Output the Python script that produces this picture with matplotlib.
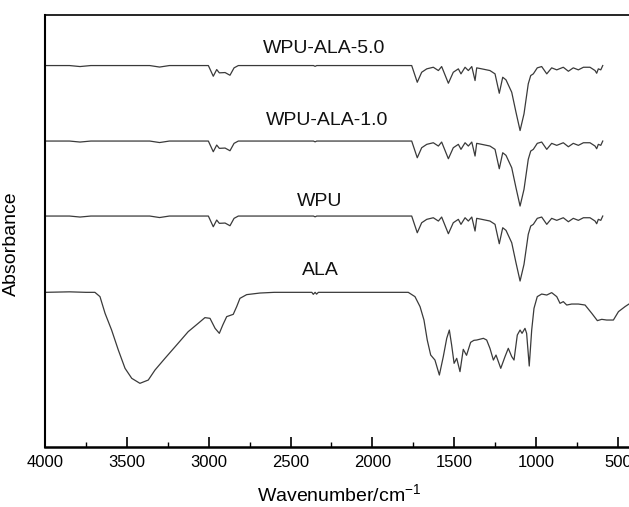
import numpy as np
import matplotlib
matplotlib.use('Agg')
import matplotlib.pyplot as plt
from matplotlib.ticker import MultipleLocator

from matplotlib import rcParams
rcParams['font.family'] = ['Liberation Sans', 'DejaVu Sans']
rcParams['mathtext.default'] = 'regular'

# WPU-type spectra (band depth below baseline)
wpu_wn = [4000, 3850, 3786, 3720, 3360, 3300, 3240, 3002, 2972, 2951, 2935, 2900,
          2870, 2845, 2819, 2360, 2350, 2340, 1760, 1726, 1699, 1668, 1628, 1597,
          1577, 1536, 1506, 1475, 1459, 1434, 1414, 1393, 1373, 1363, 1332, 1282,
          1251, 1225, 1204, 1184, 1149, 1123, 1098, 1074, 1048, 1033, 1017, 993,
          966, 935, 905, 874, 834, 803, 773, 742, 711, 671, 640, 630, 620, 605, 593]
wpu_depth = [0, 0, 1, 0, 0, 1.5, 0, 0, 10.7, 4, 7.3, 7,
             9.7, 2.3, 0, 0, 0.8, 0, 0, 16.7, 6.7, 3.3, 1.7, 5,
             1, 17.7, 6.7, 3.3, 8.3, 1.7, 5, 1, 15, 2.3, 3.3, 5,
             8.3, 27.7, 11.7, 14.3, 26.7, 46.7, 65, 48.3, 18.3, 10, 8.3, 2.3,
             1, 8.3, 2.3, 4.3, 1.7, 5.7, 2.3, 4.3, 1.7, 1.7, 5, 7.7, 3.3, 4.3, 0]

# ALA spectrum
ala_wn = [4000, 3850, 3750, 3695, 3664, 3633, 3593, 3552, 3511, 3470, 3420, 3369,
          3328, 3267, 3196, 3125, 3064, 3023, 2992, 2961, 2935, 2914, 2890, 2850,
          2829, 2809, 2768, 2687, 2600, 2370, 2361, 2350, 2341, 2330, 1781, 1740,
          1709, 1685, 1665, 1644, 1618, 1591, 1567, 1546, 1530, 1516, 1501, 1485,
          1465, 1445, 1425, 1400, 1380, 1363, 1322, 1302, 1282, 1261, 1245, 1216,
          1190, 1170, 1149, 1135, 1115, 1098, 1086, 1068, 1058, 1042, 1027, 1013,
          993, 966, 935, 905, 874, 854, 834, 813, 783, 742, 701, 660, 626, 599,
          569, 528, 497, 457, 433, 400]
ala_depth = [0, -0.5, 0, 0, 4.3, 21, 37.7, 57.7, 76, 86, 91, 87.7,
             77.7, 66, 52.7, 39.3, 31, 25.3, 26, 36, 41, 32.7, 24.3, 22,
             14.3, 6, 2.3, 0.7, 0, 0, 2, 0, 1.8, 0, 0, 4.3,
             14.3, 27.7, 47.7, 62.7, 67.7, 82.7, 64.3, 46, 37.7, 52.7, 71, 66,
             79.3, 57, 63, 50, 48, 47.7, 46, 47.7, 56, 67.7, 62.7, 76,
             64.3, 56, 64.3, 67.7, 42.7, 37.7, 41, 36, 41, 73.7, 37.7, 16,
             4.3, 1.7, 2.7, 0.3, 4.3, 11, 9.3, 12.7, 11.7, 11.7, 12.7, 21, 28.3, 27,
             27.7, 27.7, 19.3, 14.3, 11.7, 9]

names = ['WPU-ALA-5.0', 'WPU-ALA-1.0', 'WPU', 'ALA']
offsets = [381.5, 306, 231, 154.7]
label_wn = [2296, 2277, 2320, 2320]
label_y = [399, 327, 246, 177]

fig = plt.figure(figsize=(6.29, 5.07), dpi=100)
ax = fig.add_axes([0.0715, 0.1183, 0.937, 0.852])

spectra = [(wpu_wn, wpu_depth), (wpu_wn, wpu_depth), (wpu_wn, wpu_depth), (ala_wn, ala_depth)]
for (wn, d), off in zip(spectra, offsets):
    ax.plot(wn, off - np.array(d), color='#3a3a3a', lw=0.9)

for name, x, y in zip(names, label_wn, label_y):
    ax.text(x, y, name, fontsize=14, ha='center', va='center', color='#111111')

ax.set_xlim(4000, 400)
ax.set_ylim(0, 432)
ax.xaxis.set_major_locator(MultipleLocator(500))
ax.xaxis.set_minor_locator(MultipleLocator(250))
ax.set_yticks([])
ax.tick_params(axis='x', which='major', direction='in', length=7, width=1.2,
               labelsize=12, pad=6, top=False)
ax.tick_params(axis='x', which='minor', direction='in', length=3.5, width=1.0, top=False)
ax.spines['right'].set_visible(False)
ax.spines['bottom'].set_linewidth(1.8)
ax.spines['left'].set_linewidth(1.5)
ax.spines['top'].set_linewidth(1.2)
ax.set_xlabel('Wavenumber/cm$^{-1}$', fontsize=14, labelpad=9)
ax.set_ylabel('Absorbance', fontsize=14)
ax.yaxis.set_label_coords(-0.042, 0.47)

fig.savefig('out.png', dpi=100)
